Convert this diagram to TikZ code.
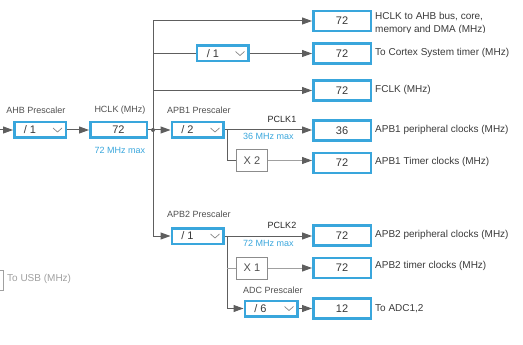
\documentclass[tikz,border=0pt]{standalone}
\usepackage{fontspec}
\setmainfont{Liberation Sans}
\usetikzlibrary{arrows.meta}
\definecolor{cubeBlue}{HTML}{39A6DC}
\definecolor{wireGray}{HTML}{5E5E5E}
\definecolor{lightWire}{HTML}{A0A0A0}
\definecolor{boxGray}{HTML}{8C8C8C}
\definecolor{labelGray}{HTML}{505050}
\definecolor{outText}{HTML}{3A3A3A}
\definecolor{valueText}{HTML}{383838}
\definecolor{usbGray}{HTML}{A0A0A0}

\tikzset{
  valbox/.style={draw=cubeBlue, line width=2.5pt, minimum width=57.5pt, minimum height=20pt, inner sep=0pt, text=valueText, font=\fontsize{11}{13}\selectfont},
  prebox/.style={draw=cubeBlue, line width=2.5pt, minimum width=51.5pt, minimum height=15.5pt, inner sep=0pt},
  mulbox/.style={draw=boxGray, line width=1pt, minimum width=31pt, minimum height=22pt, inner sep=0pt, text=labelGray, font=\fontsize{11}{13}\selectfont},
  pretext/.style={inner sep=0pt, text=valueText, font=\fontsize{11}{13}\selectfont},
  lbl/.style={inner sep=0pt, text=labelGray, font=\fontsize{9}{11}\selectfont},
  maxlbl/.style={lbl, text=cubeBlue},
  outlbl/.style={anchor=west, inner sep=0pt, text=outText, font=\fontsize{10}{12}\selectfont},
  wire/.style={draw=wireGray, line width=1pt},
  lightwire/.style={draw=lightWire, line width=1pt},
  arr/.style={-{Triangle[length=10pt, width=7pt, color=wireGray]}},
  chev/.style={draw=labelGray!70, line width=0.7pt}
}
% dropdown mark on the right of a prescaler box
\newcommand{\chevron}[1]{\draw[chev] ([xshift=-14pt,yshift=2pt]#1.east) -- ++(4.5,4) -- ++(4.5,-4);}

\begin{document}
\begin{tikzpicture}[x=1pt, y=-1pt]
    \useasboundingbox (0,0) rectangle (523,345);
    \clip (0,0) rectangle (523,345);

    % AHB prescaler and HCLK
    \coordinate (ahbin) at (-5,130);
    \node[prebox] (ahbpre) at (40,130) {};
    \node[pretext] at ([xshift=17pt]ahbpre.west) {/ 1};
    \chevron{ahbpre}
    \node[lbl] at (36,110) {AHB Prescaler};
    \node[prebox, minimum width=56.5pt] (hclk) at (118.5,130) {\fontsize{11}{13}\selectfont\color{valueText}72};
    \node[lbl] at (120,110) {HCLK (MHz)};
    \node[maxlbl] at (120,150) {72 MHz max};
    \draw[wire, arr] (ahbin) -- (ahbpre.west);
    \draw[wire, arr] (ahbpre.east) -- (hclk.west);

    % outputs of the HCLK bus
    \node[valbox] (ahbout) at (342,21) {72};
    \node[valbox] (systout) at (342,53.5) {72};
    \node[valbox] (fclkout) at (342,90.5) {72};
    \node[prebox] (systpre) at (222.5,53.5) {};
    \node[pretext] at ([xshift=17.5pt]systpre.west) {/ 1};
    \chevron{systpre}

    \begin{scope}
        \clip (370,0) rectangle (523,32.5);
        \node[outlbl] at (375,17) {HCLK to AHB bus, core,};
        \node[outlbl] at (375,30) {memory and DMA (MHz)};
    \end{scope}
    \node[outlbl] at (375,52.5) {To Cortex System timer (MHz)};
    \node[outlbl] at (375,90) {FCLK (MHz)};

    \coordinate (bus) at (153,130);
    \draw[wire] (hclk.east) -- (bus);
    \fill[wireGray] (bus) circle (2);
    \draw[wire, arr] (bus) |- (ahbout.west);
    \draw[wire] (bus) |- (systpre.west);
    \draw[wire, arr] (systpre.east) -- (systout.west);
    \draw[wire, arr] (bus) |- (fclkout.west);

    % APB1
    \node[prebox] (apb1pre) at (197.5,130) {};
    \node[pretext] at ([xshift=17pt]apb1pre.west) {/ 2};
    \chevron{apb1pre}
    \node[lbl, anchor=west] at (167,110) {APB1 Prescaler};
    \node[valbox] (pclk1out) at (342,130.5) {36};
    \node[valbox] (tim1out) at (342,163) {72};
    \node[mulbox] (x2) at (252,160.5) {X 2};
    \node[lbl, text=black!85] at (282,119) {PCLK1};
    \node[maxlbl] at (268.5,136) {36 MHz max};
    \node[outlbl] at (375,130) {APB1 peripheral clocks (MHz)};
    \node[outlbl] at (375,162) {APB1 Timer clocks (MHz)};
    \coordinate (br1) at (227,130);
    \draw[wire, arr] (bus) -- (apb1pre.west);
    \draw[wire, arr] (apb1pre.east) -- (apb1pre.east -| pclk1out.west);
    \draw[wire] (br1) |- (x2.west);
    \draw[lightwire, arr] (x2.east) -- (x2.east -| tim1out.west);

    % APB2
    \node[prebox] (apb2pre) at (197.5,236) {};
    \node[pretext] at ([xshift=17pt]apb2pre.west) {/ 1};
    \chevron{apb2pre}
    \node[lbl, anchor=west] at (167,214) {APB2 Prescaler};
    \node[valbox] (pclk2out) at (342,235.5) {72};
    \node[valbox] (tim2out) at (342,268) {72};
    \node[valbox] (adcout) at (342,308.5) {12};
    \node[mulbox] (x1) at (252,268) {X 1};
    \node[prebox, minimum width=52.5pt] (adcpre) at (271,308.5) {};
    \node[pretext] at ([xshift=17pt]adcpre.west) {/ 6};
    \chevron{adcpre}
    \node[lbl] at (273,290) {ADC Prescaler};
    \node[lbl, text=black!85] at (282,225) {PCLK2};
    \node[maxlbl] at (268.5,243) {72 MHz max};
    \node[outlbl] at (375,235) {APB2 peripheral clocks (MHz)};
    \node[outlbl] at (375,266) {APB2 timer clocks (MHz)};
    \node[outlbl] at (375,309) {To ADC1,2};
    \coordinate (br2) at (227,236);
    \draw[wire, arr] (bus) |- (apb2pre.west);
    \draw[wire, arr] (apb2pre.east) -- (apb2pre.east -| pclk2out.west);
    \draw[wire, arr] (br2) |- (adcpre.west);
    \draw[lightwire] (br2 |- x1.west) -- (x1.west);
    \draw[lightwire, arr] (x1.east) -- (x1.east -| tim2out.west);
    \draw[wire, arr] (adcpre.east) -- (adcout.west);

    % USB output, cut at the left edge
    \draw[usbGray, line width=1pt] (-10,270) rectangle (3,290);
    \node[outlbl, text=usbGray] at (7,279) {To USB (MHz)};
\end{tikzpicture}
\end{document}
